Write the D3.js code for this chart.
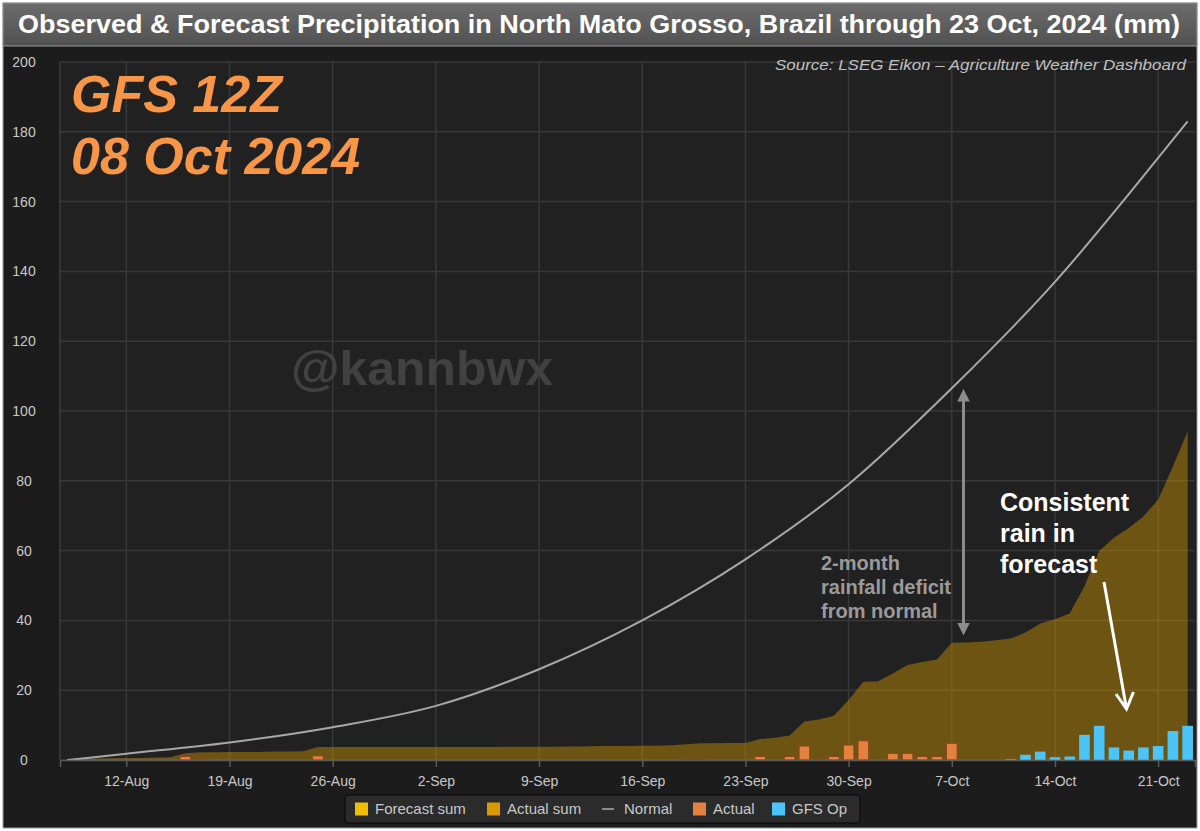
<!DOCTYPE html>
<html>
<head>
<meta charset="utf-8">
<script src="https://cdn.jsdelivr.net/npm/d3@7"></script>
<style>
  html, body { margin: 0; padding: 0; background: #ffffff; }
  svg { display: block; font-family: "Liberation Sans", Arial, sans-serif; }
</style>
</head>
<body>
<div id="chart"></div>
<script>
// Observed daily rain, 8 Aug .. 7 Oct 2024 (mm)
const actualDaily = [
  0, 0, 0, 0, 0, 0, 0, 0, 1.0, 0.3, 0, 0, 0, 0, 0, 0, 0, 1.2, 0, 0, 0, 0, 0, 0,
  0, 0, 0, 0, 0, 0, 0, 0, 0, 0, 0, 0, 0, 0, 0, 0, 0, 0, 0.2, 0.2, 0, 0, 0, 1.0, 0, 1.0, 4.0, 0.3, 1.0, 4.3,
  5.5, 0, 1.9, 1.9, 1.0, 1.0, 4.8
];
// Cumulative observed, same days
const actualSum = [
  0.3, 0.4, 0.4, 0.5, 0.6, 0.6, 0.7, 0.8, 1.9, 2.2, 2.2, 2.3, 2.3, 2.3, 2.4, 2.4, 2.5, 3.7, 3.7, 3.7, 3.7, 3.7, 3.7, 3.7,
  3.7, 3.7, 3.7, 3.7, 3.7, 3.7, 3.8, 3.8, 3.8, 3.8, 3.9, 3.9, 4.0, 4.0, 4.0, 4.1, 4.1, 4.2, 4.5, 4.8, 4.8, 4.9, 4.9, 6.0, 6.4, 7.0, 11.0, 11.6, 12.7, 17.2,
  22.4, 22.6, 24.8, 27.2, 28.1, 28.8, 33.6
];
// GFS operational daily forecast, 8 Oct .. 23 Oct
const gfsDaily = [0, 0, 0, 0.2, 1.5, 2.4, 0.8, 1.0, 7.2, 9.8, 3.6, 2.7, 3.6, 4.0, 8.3, 9.8];
// Cumulative forecast, 7 Oct .. 23 Oct
const forecastSum = [33.6, 33.7, 33.9, 34.3, 34.8, 36.5, 39.1, 40.3, 42.0, 49.8, 59.9, 63.7, 66.5, 69.8, 74.6, 84.1, 94.1];
// Normal cumulative rain
const normalDates = ['2024-08-08', '2024-08-12', '2024-08-19', '2024-08-26', '2024-09-02', '2024-09-09', '2024-09-16',
  '2024-09-23', '2024-09-30', '2024-10-07', '2024-10-14', '2024-10-21', '2024-10-23'];
const normalValues = [0, 1.8, 5.0, 9.4, 15.5, 26.0, 40.0, 57.5, 79.0, 106.5, 137.0, 172.5, 183.0];

const yTicks = [0, 20, 40, 60, 80, 100, 120, 140, 160, 180, 200];

const COLORS = {
  forecastSum: '#f0c000',
  actualSum: '#d89a00',
  normal: '#a8a8a8',
  actual: '#e5813e',
  gfs: '#4cc4f7',
};

const width = 1200;
const height = 831;
const plot = { left: 60, right: 1195, top: 62, bottom: 760 };

const parse = d3.timeParse('%Y-%m-%d');
const obsDays = d3.timeDay.range(parse('2024-08-08'), parse('2024-10-08'));
const fcDays = d3.timeDay.range(parse('2024-10-08'), parse('2024-10-24'));
const fcSumDays = d3.timeDay.range(parse('2024-10-07'), parse('2024-10-24'));

const x = d3.scaleTime()
  .domain([d3.timeHour.offset(parse('2024-08-07'), 12), d3.timeHour.offset(parse('2024-10-23'), 12)])
  .range([plot.left, plot.right]);
const y = d3.scaleLinear().domain([0, 200]).range([plot.bottom, plot.top]);

const dayW = x(parse('2024-08-09')) - x(parse('2024-08-08'));
const barW = dayW * 0.72;

const svg = d3.select('#chart').append('svg')
  .attr('width', width)
  .attr('height', height);

// Panel and title bar
svg.append('rect')
  .attr('x', 3).attr('y', 3).attr('width', 1194).attr('height', 825)
  .attr('fill', '#1c1c1c').attr('stroke', '#9a9a9a').attr('stroke-width', 1);

const grad = svg.append('defs').append('linearGradient')
  .attr('id', 'titleGrad').attr('x1', 0).attr('x2', 0).attr('y1', 0).attr('y2', 1);
grad.append('stop').attr('offset', '0%').attr('stop-color', '#6c6c6c');
grad.append('stop').attr('offset', '100%').attr('stop-color', '#515151');

svg.append('rect')
  .attr('x', 3).attr('y', 3).attr('width', 1194).attr('height', 43)
  .attr('fill', 'url(#titleGrad)').attr('stroke', '#9a9a9a').attr('stroke-width', 1);

svg.append('text')
  .attr('x', 18).attr('y', 33)
  .attr('fill', '#ffffff')
  .attr('font-size', 25).attr('font-weight', 'bold')
  .attr('textLength', 1162).attr('lengthAdjust', 'spacingAndGlyphs')
  .text('Observed & Forecast Precipitation in North Mato Grosso, Brazil through 23 Oct, 2024 (mm)');

// Plot background
svg.append('rect')
  .attr('x', plot.left).attr('y', plot.top)
  .attr('width', plot.right - plot.left).attr('height', plot.bottom - plot.top)
  .attr('fill', '#212121');

// Grid
const xTicks = d3.timeMonday.range(parse('2024-08-12'), parse('2024-10-24'));
svg.append('g')
  .selectAll('line')
  .data(yTicks)
  .join('line')
  .attr('x1', plot.left).attr('x2', plot.right)
  .attr('y1', d => y(d)).attr('y2', d => y(d))
  .attr('stroke', '#383838').attr('stroke-width', 1.5);

svg.append('g')
  .selectAll('line')
  .data(xTicks)
  .join('line')
  .attr('x1', d => x(d)).attr('x2', d => x(d))
  .attr('y1', plot.top).attr('y2', plot.bottom)
  .attr('stroke', '#383838').attr('stroke-width', 1.5);

svg.append('line')
  .attr('x1', plot.left).attr('x2', plot.left)
  .attr('y1', plot.top).attr('y2', plot.bottom)
  .attr('stroke', '#3c3c3c').attr('stroke-width', 1.5);

// Watermark
svg.append('text')
  .attr('x', 291).attr('y', 385)
  .attr('fill', '#414141')
  .attr('font-size', 49).attr('font-weight', 'bold')
  .attr('textLength', 262).attr('lengthAdjust', 'spacingAndGlyphs')
  .text('@kannbwx');

// Cumulative areas
const area = d3.area()
  .x(d => x(d[0]))
  .y0(y(0))
  .y1(d => y(d[1]));

svg.append('path')
  .datum(d3.zip(obsDays, actualSum))
  .attr('d', area)
  .attr('fill', COLORS.actualSum)
  .attr('fill-opacity', 0.42);

svg.append('path')
  .datum(d3.zip(fcSumDays, forecastSum))
  .attr('d', area)
  .attr('fill', COLORS.actualSum)
  .attr('fill-opacity', 0.42);

// Normal line
const line = d3.line()
  .x(d => x(d[0]))
  .y(d => y(d[1]))
  .curve(d3.curveMonotoneX);

svg.append('path')
  .datum(d3.zip(normalDates.map(parse), normalValues))
  .attr('d', line)
  .attr('fill', 'none')
  .attr('stroke', COLORS.normal)
  .attr('stroke-width', 2);

// Daily bars
svg.append('g')
  .selectAll('rect')
  .data(d3.zip(obsDays, actualDaily).filter(d => d[1] > 0))
  .join('rect')
  .attr('x', d => x(d[0]) - barW / 2)
  .attr('y', d => y(d[1]))
  .attr('width', barW)
  .attr('height', d => y(0) - y(d[1]))
  .attr('fill', COLORS.actual)
  .attr('stroke', '#8a4520')
  .attr('stroke-width', 1);

svg.append('g')
  .selectAll('rect')
  .data(d3.zip(fcDays, gfsDaily).filter(d => d[1] > 0))
  .join('rect')
  .attr('x', d => x(d[0]) - barW / 2)
  .attr('y', d => y(d[1]))
  .attr('width', barW)
  .attr('height', d => y(0) - y(d[1]))
  .attr('fill', COLORS.gfs);

// Axes
const xAxis = svg.append('g')
  .attr('transform', `translate(0,${plot.bottom})`)
  .call(d3.axisBottom(x).tickValues(xTicks).tickFormat(d3.timeFormat('%-d-%b')).tickSize(7).tickPadding(9));
xAxis.select('.domain').attr('stroke', '#5a5a5a').attr('stroke-width', 1.5);
xAxis.selectAll('.tick line').attr('stroke', '#5a5a5a').attr('stroke-width', 1.5);
xAxis.selectAll('.tick text')
  .attr('fill', '#c8c8c8').attr('font-size', 14)
  .attr('font-family', '"Liberation Sans", Arial, sans-serif');

svg.append('g')
  .selectAll('text')
  .data(yTicks)
  .join('text')
  .attr('x', 24).attr('y', d => y(d) + 5)
  .attr('text-anchor', 'middle')
  .attr('fill', '#c8c8c8').attr('font-size', 14)
  .text(d => d);

// Model run label
const runLabel = svg.append('text')
  .attr('fill', '#f79646')
  .attr('font-size', 52).attr('font-weight', 'bold').attr('font-style', 'italic');
runLabel.append('tspan').attr('x', 71).attr('y', 112).text('GFS 12Z');
runLabel.append('tspan').attr('x', 71).attr('y', 174).text('08 Oct 2024');

svg.append('text')
  .attr('x', 1186).attr('y', 70)
  .attr('text-anchor', 'end')
  .attr('fill', '#c0c0c0')
  .attr('font-size', 15).attr('font-style', 'italic')
  .attr('textLength', 411).attr('lengthAdjust', 'spacingAndGlyphs')
  .text('Source: LSEG Eikon \u2013 Agriculture Weather Dashboard');

// Deficit annotation
const defs = svg.select('defs');
defs.append('marker')
  .attr('id', 'grayHead')
  .attr('viewBox', '0 0 10 10')
  .attr('refX', 5).attr('refY', 5)
  .attr('markerWidth', 4.2).attr('markerHeight', 4.2)
  .attr('orient', 'auto-start-reverse')
  .append('path')
  .attr('d', 'M0,0 L10,5 L0,10 Z')
  .attr('fill', '#8c8c8c');

const deficitX = x(parse('2024-10-08')) - 3;
svg.append('line')
  .attr('x1', deficitX).attr('x2', deficitX)
  .attr('y1', y(104.5)).attr('y2', y(37.5))
  .attr('stroke', '#8c8c8c').attr('stroke-width', 3)
  .attr('marker-start', 'url(#grayHead)')
  .attr('marker-end', 'url(#grayHead)');

const deficit = svg.append('text')
  .attr('fill', '#9a9a9a').attr('font-size', 20).attr('font-weight', 'bold');
['2-month', 'rainfall deficit', 'from normal'].forEach((t, i) => {
  deficit.append('tspan').attr('x', 821).attr('y', 570 + i * 24).text(t);
});

// Forecast annotation
const note = svg.append('text')
  .attr('fill', '#ffffff').attr('font-size', 25).attr('font-weight', 'bold');
['Consistent', 'rain in', 'forecast'].forEach((t, i) => {
  note.append('tspan').attr('x', 1000).attr('y', 511 + i * 31).text(t);
});

svg.append('line')
  .attr('x1', 1104).attr('y1', 582)
  .attr('x2', 1126).attr('y2', 706)
  .attr('stroke', '#ffffff').attr('stroke-width', 3);
svg.append('path')
  .attr('d', 'M1116,694 L1126.5,709 L1133.5,692')
  .attr('fill', 'none')
  .attr('stroke', '#ffffff').attr('stroke-width', 3)
  .attr('stroke-linejoin', 'miter');

// Legend
const legendItems = [
  { label: 'Forecast sum', color: COLORS.forecastSum, type: 'box' },
  { label: 'Actual sum', color: COLORS.actualSum, type: 'box' },
  { label: 'Normal', color: '#8a8a8a', type: 'line' },
  { label: 'Actual', color: COLORS.actual, type: 'box' },
  { label: 'GFS Op', color: COLORS.gfs, type: 'box' },
];
const legendX = [355, 487, 602, 693, 772];

svg.append('rect')
  .attr('x', 345).attr('y', 795).attr('width', 515).attr('height', 28)
  .attr('rx', 3)
  .attr('fill', '#2b2b2b').attr('stroke', '#111111').attr('stroke-width', 1.5);

const legend = svg.append('g')
  .selectAll('g')
  .data(legendItems)
  .join('g')
  .attr('transform', (d, i) => `translate(${legendX[i]},809)`);

legend.filter(d => d.type === 'box').append('rect')
  .attr('x', 0).attr('y', -6.5).attr('width', 13).attr('height', 13)
  .attr('fill', d => d.color);
legend.filter(d => d.type === 'line').append('line')
  .attr('x1', 0).attr('x2', 12).attr('y1', 0).attr('y2', 0)
  .attr('stroke', d => d.color).attr('stroke-width', 2);
legend.append('text')
  .attr('x', d => d.type === 'line' ? 22 : 20)
  .attr('y', 5)
  .attr('fill', '#c8c8c8').attr('font-size', 15)
  .text(d => d.label);
</script>
</body>
</html>
